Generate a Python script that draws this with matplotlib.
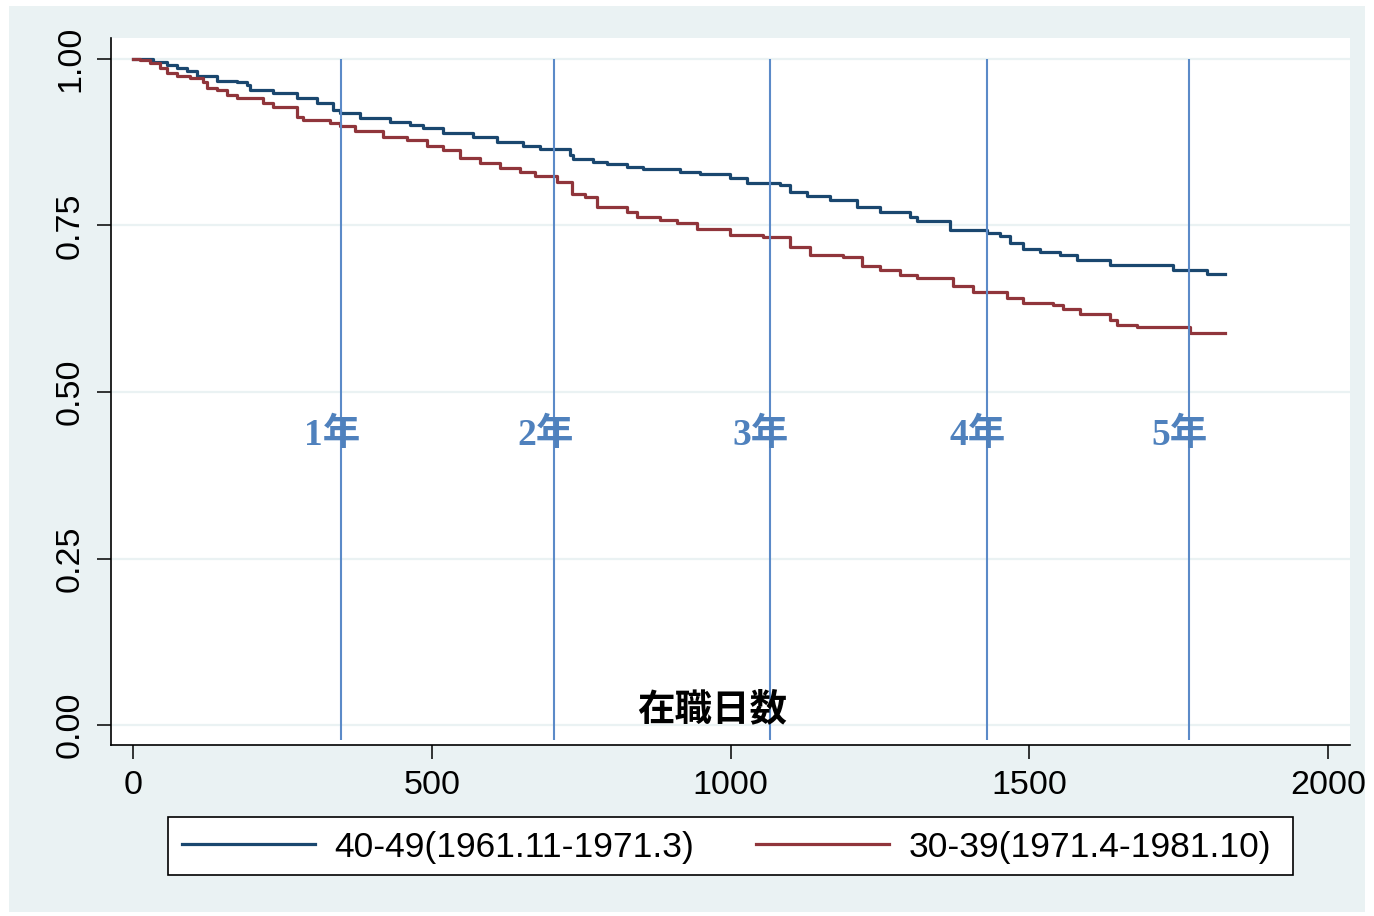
import matplotlib
matplotlib.use('Agg')
import matplotlib.pyplot as plt
from matplotlib.patches import Rectangle

# ---- data ----
blue_days = [0, 33, 57, 74, 90, 107, 141, 174, 191, 196, 234, 274, 308, 335, 346, 380, 430, 464, 485, 519,
             569, 609, 653, 681, 731, 736, 770, 793, 827, 854, 915, 949, 999, 1028, 1083, 1100, 1128, 1167, 1212, 1250,
             1300, 1312, 1367, 1429, 1451, 1468, 1490, 1518, 1551, 1580, 1635, 1741, 1797, 1828]
blue_surv = [1.000, 0.9955, 0.991, 0.9865, 0.982, 0.9745, 0.967, 0.9655, 0.961, 0.9535,
             0.949, 0.9414, 0.934, 0.9234, 0.919, 0.9114, 0.9054, 0.901, 0.8964, 0.889,
             0.883, 0.8754, 0.869, 0.8649, 0.856, 0.850, 0.845, 0.842, 0.838, 0.835,
             0.830, 0.827, 0.821, 0.814, 0.811, 0.800, 0.794, 0.788, 0.778, 0.770,
             0.763, 0.757, 0.743, 0.739, 0.734, 0.724, 0.715, 0.710, 0.706, 0.698,
             0.691, 0.683, 0.677, 0.677]

red_days = [0, 12, 28, 45, 57, 74, 95, 117, 124, 141, 157, 174, 218, 234, 274, 285, 330, 346, 372, 418,
            459, 492, 519, 547, 581, 614, 648, 673, 710, 735, 756, 777, 827, 844, 882, 910, 944, 999, 1054, 1100,
            1133, 1188, 1220, 1250, 1284, 1312, 1372, 1406, 1463, 1490, 1540, 1556, 1585, 1635, 1647, 1680, 1769, 1828]
red_surv = [1.000, 0.9985, 0.994, 0.9865, 0.979, 0.9745, 0.9715, 0.9655, 0.9565, 0.9535,
            0.946, 0.9414, 0.934, 0.928, 0.913, 0.908, 0.904, 0.899, 0.892, 0.883,
            0.878, 0.869, 0.863, 0.851, 0.844, 0.836, 0.830, 0.824, 0.815, 0.797,
            0.793, 0.778, 0.770, 0.763, 0.758, 0.754, 0.745, 0.736, 0.733, 0.718,
            0.706, 0.703, 0.689, 0.683, 0.676, 0.671, 0.659, 0.650, 0.641, 0.634,
            0.631, 0.625, 0.617, 0.608, 0.601, 0.598, 0.589, 0.589]

series_labels = ['40-49(1961.11-1971.3)', '30-39(1971.4-1981.10)']
year_lines = [348, 705, 1066, 1429, 1767]
year_labels = ['1年', '2年', '3年', '4年', '5年']
x_ticks = [0, 500, 1000, 1500, 2000]
y_ticks = [0.00, 0.25, 0.50, 0.75, 1.00]
x_title = '在職日数'

# ---- styling ----
W, H = 1374, 916
BG = '#eaf2f3'
BLUE = '#1a476f'
RED = '#90353b'
VLINE = '#5b8ac8'
LABELC = '#4f81bd'

fig = plt.figure(figsize=(W / 100, H / 100), dpi=100, facecolor='white')
fig.patches.append(Rectangle((9 / W, 4 / H), (1365 - 9) / W, (910 - 4) / H,
                             transform=fig.transFigure, facecolor=BG, edgecolor='none', zorder=-10))

ax = fig.add_axes([111 / W, 1 - 745 / H, (1350 - 111) / W, (745 - 38) / H])
ax.set_facecolor('white')

ax.set_xlim(-36.8, 2036.8)
ax.set_ylim(-0.030, 1.0315)

for yv in y_ticks:
    ax.axhline(yv, color=BG, lw=1.6, zorder=0)

ax.step(blue_days, blue_surv, where='post', color=BLUE, lw=2.3, label=series_labels[0], zorder=3)
ax.step(red_days, red_surv, where='post', color=RED, lw=2.3, label=series_labels[1], zorder=3)

ax.vlines(year_lines, -0.022, 1.0, color=VLINE, lw=1.5, zorder=4)
for xv, lab in zip(year_lines, year_labels):
    ax.annotate(lab, (xv, 0.435), xytext=(-9, 0), textcoords='offset pixels',
                ha='center', va='center', color=LABELC, fontsize=27, fontweight='bold',
                family=['Liberation Serif', 'Noto Sans CJK JP'], zorder=5)

ax.text(0.4855, 0.052, x_title, transform=ax.transAxes, ha='center', va='center',
        fontsize=27, fontweight='bold', family=['Noto Sans CJK JP'], color='black', zorder=5)

for s in ['top', 'right']:
    ax.spines[s].set_visible(False)
for s in ['left', 'bottom']:
    ax.spines[s].set_linewidth(1.2)
    ax.spines[s].set_color('black')

ax.set_xticks(x_ticks)
ax.set_xticklabels([str(v) for v in x_ticks])
ax.set_yticks(y_ticks)
ax.set_yticklabels([f'{v:.2f}' for v in y_ticks], rotation=90, va='center')
ax.tick_params(axis='both', direction='out', length=10, width=1.1, color='black',
               labelsize=24.5, pad=8)
for lab in ax.get_xticklabels() + ax.get_yticklabels():
    lab.set_family('Liberation Sans')

# legend box (Stata-style frame) and entries
fig.patches.append(Rectangle((168 / W, 1 - 875 / H), (1293 - 168) / W, (875 - 817) / H,
                             transform=fig.transFigure, facecolor='white', edgecolor='black',
                             linewidth=1.2, zorder=5))
leg = fig.legend(loc='center left', bbox_to_anchor=(182 / W, 1 - 847 / H), ncol=2,
                 frameon=False, prop={'family': 'Liberation Sans', 'size': 25.5},
                 handlelength=3.76, handletextpad=0.54, columnspacing=1.75,
                 borderpad=0, borderaxespad=0)
leg.set_zorder(6)
for line in leg.get_lines():
    line.set_linewidth(2.3)

fig.savefig('out.png', dpi=100, facecolor='white')
